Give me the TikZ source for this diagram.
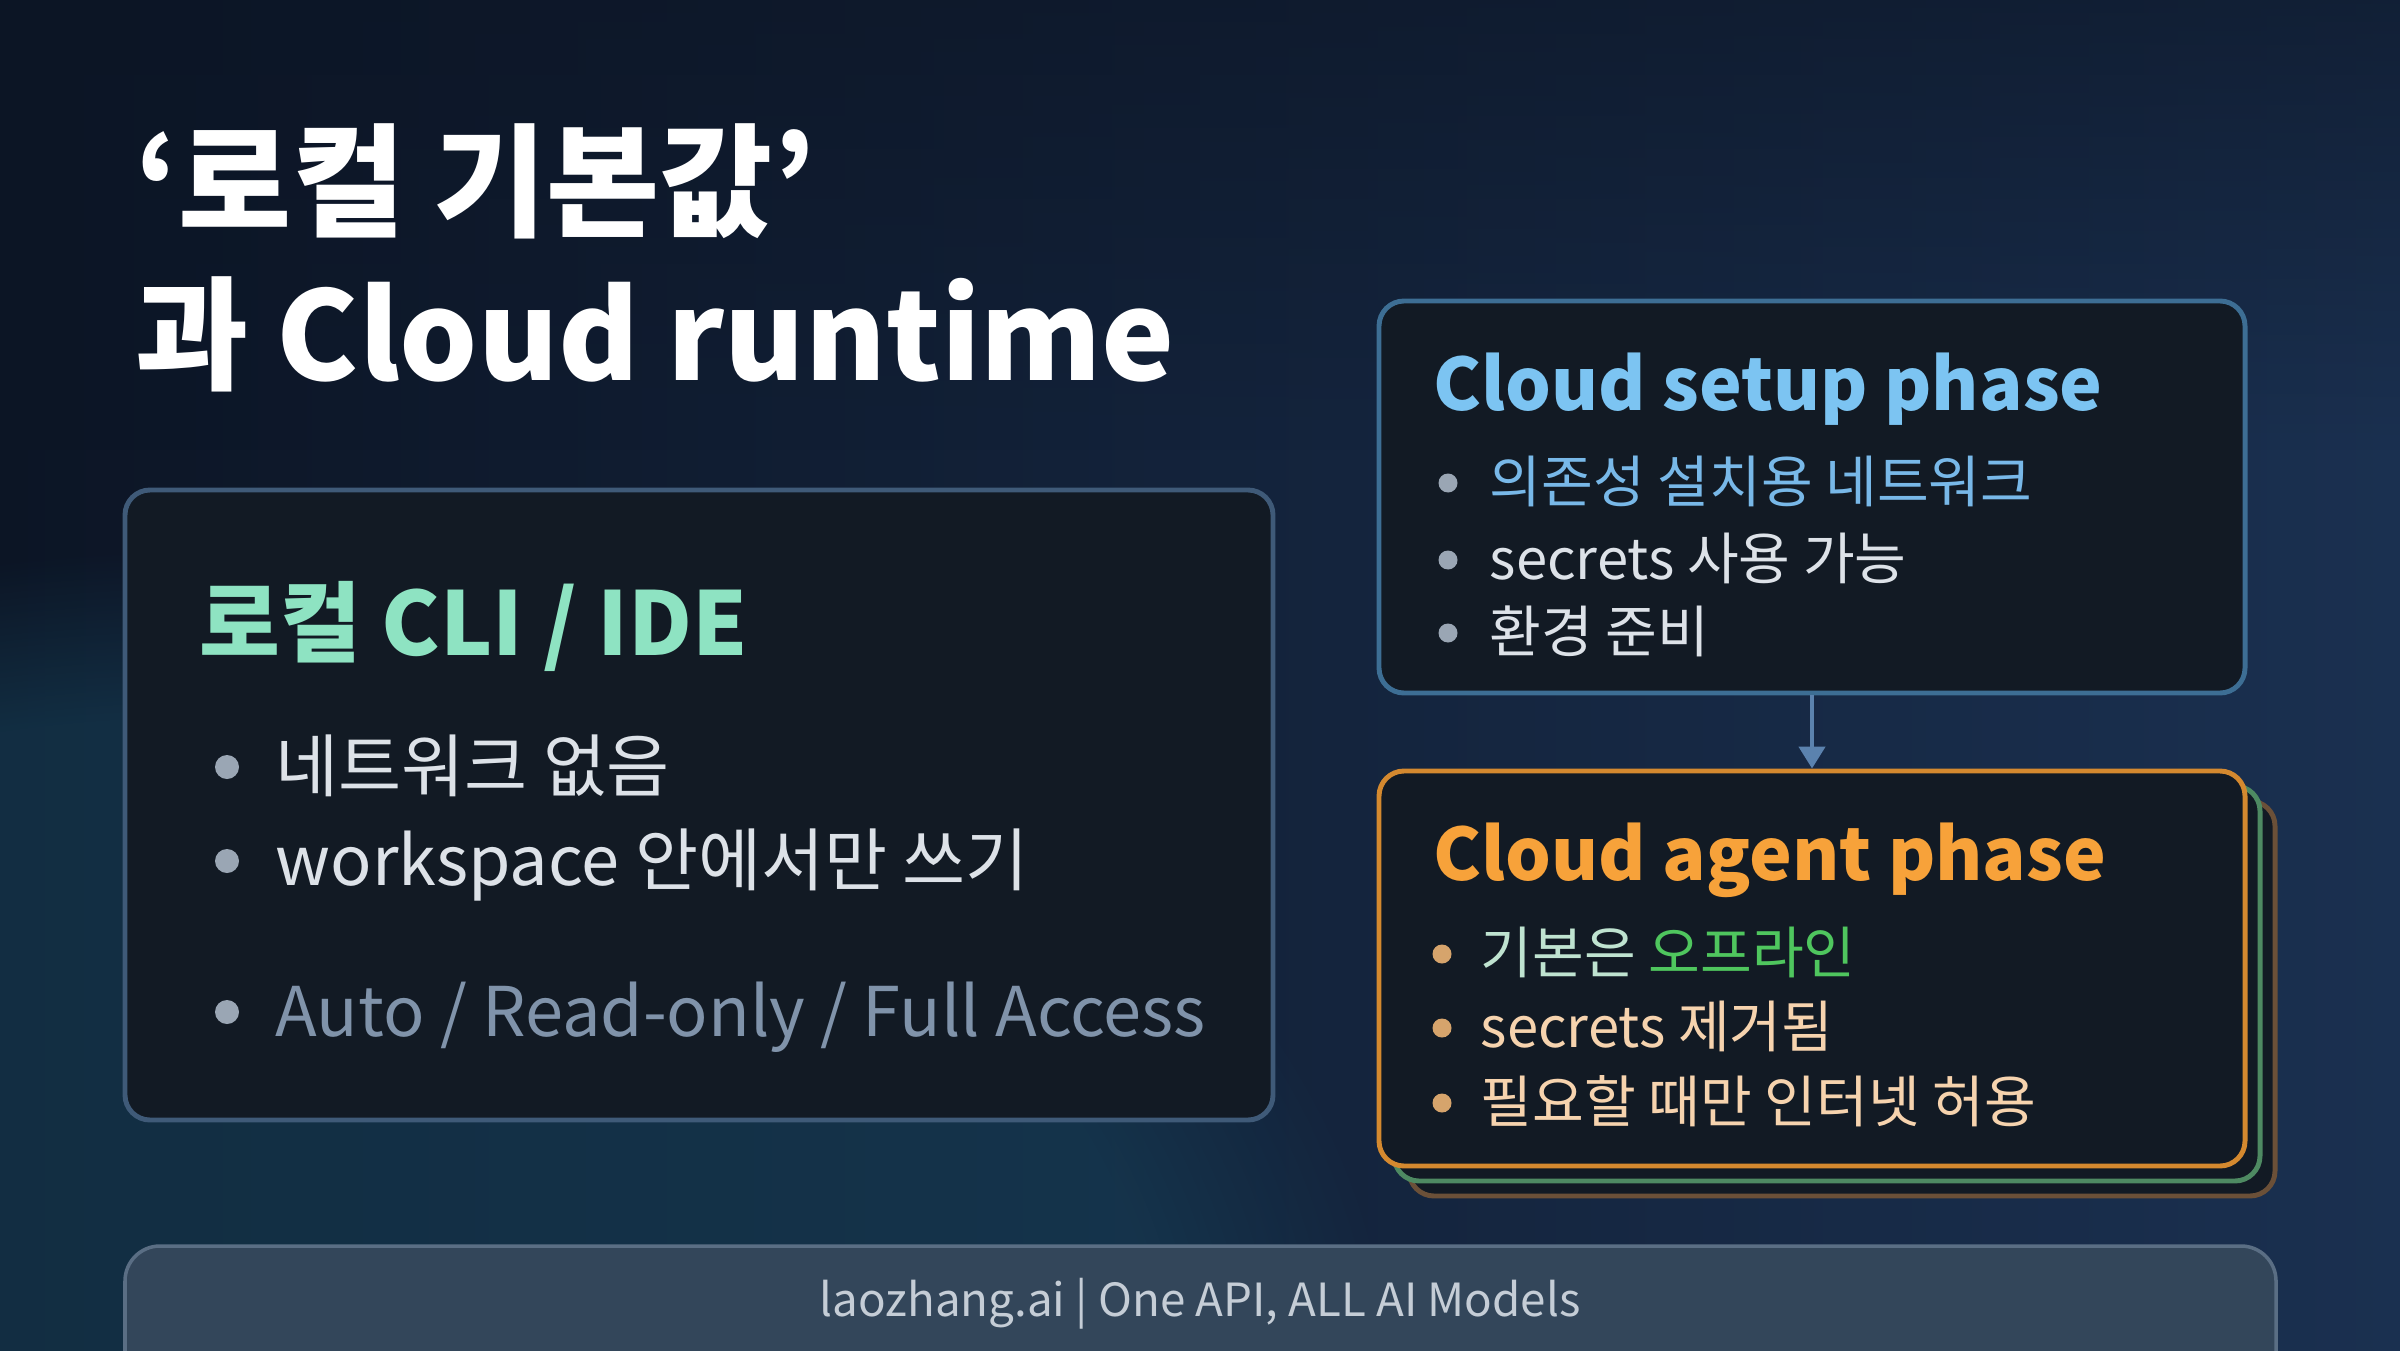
\documentclass[tikz,border=0pt]{standalone}
\usepackage{fontspec}
\setmainfont{Noto Sans CJK KR}
\usepackage{xcolor}
\usetikzlibrary{positioning}
\usetikzlibrary{arrows.meta,fadings}

\definecolor{bgleft}{HTML}{0C1525}
\definecolor{bgright}{HTML}{1A3050}
\definecolor{bgteal}{HTML}{17425A}
\definecolor{boxfill}{HTML}{121A24}
\definecolor{boxline}{HTML}{3F5A78}
\definecolor{setupline}{HTML}{3D6E94}
\definecolor{agentline}{HTML}{D4892F}
\definecolor{shadegreen}{HTML}{4E8A62}
\definecolor{shadebrown}{HTML}{6B5038}
\definecolor{arrowblue}{HTML}{5B82AE}
\definecolor{mint}{HTML}{8EE3C2}
\definecolor{skyblue}{HTML}{7CC4F2}
\definecolor{netblue}{HTML}{78B8E8}
\definecolor{orange}{HTML}{F7A23A}
\definecolor{peach}{HTML}{F6D3AE}
\definecolor{palemint}{HTML}{BFE3D0}
\definecolor{offgreen}{HTML}{4FC65E}
\definecolor{bodytext}{HTML}{DDE2E8}
\definecolor{slate}{HTML}{8093AA}
\definecolor{dotgrey}{HTML}{9AA6B4}
\definecolor{dottan}{HTML}{D6A46C}
\definecolor{footfill}{HTML}{33465A}
\definecolor{footline}{HTML}{5A6E84}
\definecolor{foottext}{HTML}{C5CDD6}

\begin{document}
\begin{tikzpicture}[x=1cm,y=1cm,
  box/.style={draw,line width=1.4pt,rounded corners=0.25cm,fill=boxfill,inner sep=0pt},
  txt/.style={inner sep=0pt,anchor=base west},
  big/.style={txt,font=\fontsize{19.5}{24}\selectfont,text=bodytext},
  small/.style={txt,font=\fontsize{16}{20}\selectfont,text=bodytext},
  head/.style={txt,font=\bfseries\fontsize{20.5}{25}\selectfont},
  dot/.style={circle,inner sep=0pt,minimum size=0.19cm,fill=dotgrey},
  arr/.style={-{Triangle[width=0.26cm,length=0.22cm]},line width=1.3pt,draw=arrowblue}]
  \useasboundingbox (0,0) rectangle (24,13.5);
  \clip (0,0) rectangle (24,13.5);

  % background
  \shade[left color=bgleft,right color=bgright] (0,0) rectangle (24,13.5);
  \fill[bgteal,opacity=0.55,path fading=circle with fuzzy edge 20 percent] (-10,-9) rectangle (14,8);
  \fill[bgleft,opacity=0.6,path fading=south] (0,9) rectangle (24,13.5);

  % title
  \node[txt,font=\bfseries\fontsize{35}{42}\selectfont,text=white] (title1) at (1.35,11.22) {‘로컬 기본값’};
  \node[txt,font=\bfseries\fontsize{35}{42}\selectfont,text=white] (title2) at (1.35,9.70) {과 Cloud runtime};

  % local box
  \node[box,draw=boxline,minimum width=11.48cm,minimum height=6.30cm] (local) at (6.99,5.45) {};
  \node[head,font=\bfseries\fontsize{25}{30}\selectfont,text=mint] (localhead) at (1.99,6.95) {로컬 CLI / IDE};
  \node[big] (l1) at (2.75,5.59) {네트워크 없음};
  \node[big] (l2) at (2.75,4.65) {workspace 안에서만 쓰기};
  \node[big,text=slate] (l3) at (2.75,3.14) {Auto / Read-only / Full Access};
  \node[dot,minimum size=0.24cm] (ld1) at (2.27,5.83) {};
  \node[dot,minimum size=0.24cm] (ld2) at (2.27,4.89) {};
  \node[dot,minimum size=0.24cm] (ld3) at (2.27,3.38) {};

  % setup box
  \node[box,draw=setupline,minimum width=8.66cm,minimum height=3.92cm] (setup) at (18.12,8.53) {};
  \node[head,text=skyblue] (setuphead) at (14.33,9.40) {Cloud setup phase};
  \node[small,text=netblue] (s1) at (14.89,8.48) {의존성 설치용 네트워크};
  \node[small] (s2) at (14.89,7.71) {secrets 사용 가능};
  \node[small] (s3) at (14.89,6.98) {환경 준비};
  \node[dot] (sd1) at (14.48,8.67) {};
  \node[dot] (sd2) at (14.48,7.90) {};
  \node[dot] (sd3) at (14.48,7.17) {};

  % agent box with stacked cards behind
  \node[box,draw=shadebrown,minimum width=8.66cm,minimum height=3.95cm] (agentback2) at (18.42,3.515) {};
  \node[box,draw=shadegreen,minimum width=8.66cm,minimum height=3.95cm] (agentback1) at (18.27,3.665) {};
  \node[box,draw=agentline,minimum width=8.66cm,minimum height=3.95cm] (agent) at (18.12,3.815) {};
  \node[head,text=orange] (agenthead) at (14.33,4.70) {Cloud agent phase};
  \node[small,text=palemint] (a1) at (14.80,3.77) {기본은 \textcolor{offgreen}{오프라인}};
  \node[small,text=peach] (a2) at (14.80,3.03) {secrets 제거됨};
  \node[small,text=peach] (a3) at (14.80,2.28) {필요할 때만 인터넷 허용};
  \node[dot,fill=dottan] (ad1) at (14.42,3.96) {};
  \node[dot,fill=dottan] (ad2) at (14.42,3.22) {};
  \node[dot,fill=dottan] (ad3) at (14.42,2.47) {};

  \draw[arr] (setup) -- (agent);

  % footer
  \node[box,fill=footfill,draw=footline,line width=1pt,rounded corners=0.35cm,minimum width=21.51cm,minimum height=1.54cm] (footer) at (12.005,0.27) {};
  \node[txt,anchor=base,font=\fontsize{13}{16}\selectfont,text=foottext] (foottxt) at (12.0,0.34) {laozhang.ai | One API, ALL AI Models};
\end{tikzpicture}
\end{document}
